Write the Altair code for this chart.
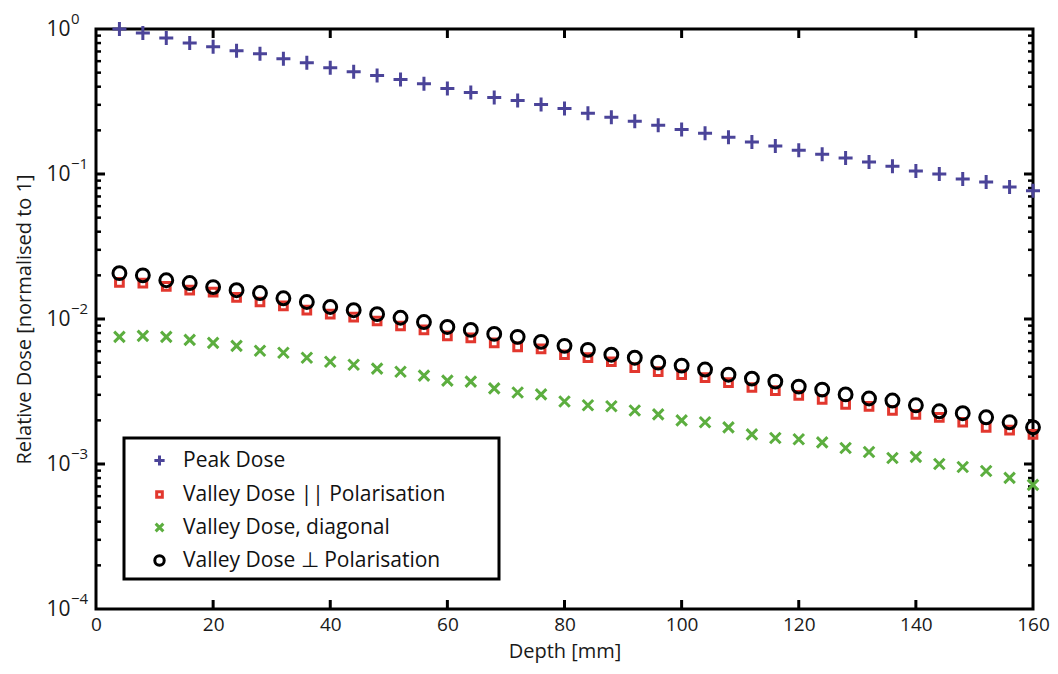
import altair as alt
import pandas as pd

depth = [4, 8, 12, 16, 20, 24, 28, 32, 36, 40, 44, 48, 52, 56, 60, 64, 68, 72, 76, 80,
         84, 88, 92, 96, 100, 104, 108, 112, 116, 120, 124, 128, 132, 136, 140, 144, 148, 152, 156, 160]

peak = [1.0, 0.939, 0.868, 0.802, 0.753, 0.707, 0.674, 0.623, 0.585, 0.541,
        0.508, 0.477, 0.448, 0.420, 0.388, 0.365, 0.337, 0.321, 0.302, 0.283,
        0.262, 0.246, 0.231, 0.217, 0.203, 0.191, 0.179, 0.166, 0.156, 0.146,
        0.137, 0.129, 0.121, 0.113, 0.105, 0.100, 0.0925, 0.0881, 0.0815, 0.0765]

valley_par = [0.0179, 0.0177, 0.0168, 0.0158, 0.0153, 0.0141, 0.0131, 0.0123, 0.0115, 0.0108,
              0.0103, 0.00969, 0.00895, 0.00841, 0.00765, 0.00741, 0.00685, 0.00643, 0.00623, 0.00567,
              0.00541, 0.00507, 0.00462, 0.00433, 0.00413, 0.00394, 0.00364, 0.00337, 0.00321, 0.00297,
              0.00279, 0.00258, 0.00250, 0.00234, 0.00220, 0.00210, 0.00194, 0.00179, 0.00171, 0.00160]

valley_diag = [0.00753, 0.00765, 0.00753, 0.00718, 0.00685, 0.00653, 0.00604, 0.00585, 0.00541, 0.00507,
               0.00484, 0.00455, 0.00433, 0.00407, 0.00376, 0.00370, 0.00332, 0.00311, 0.00302, 0.00270,
               0.00254, 0.00250, 0.00234, 0.00220, 0.00200, 0.00194, 0.00179, 0.00160, 0.00151, 0.00148,
               0.00141, 0.00129, 0.00121, 0.00110, 0.00112, 0.00100, 0.000953, 0.000895, 0.000802, 0.000718]

valley_perp = [0.0207, 0.0200, 0.0185, 0.0177, 0.0166, 0.0158, 0.0151, 0.0139, 0.0131, 0.0121,
               0.0115, 0.0108, 0.0102, 0.00953, 0.00881, 0.00841, 0.00789, 0.00753, 0.00696, 0.00653,
               0.00613, 0.00567, 0.00541, 0.00500, 0.00477, 0.00448, 0.00413, 0.00388, 0.00370, 0.00342,
               0.00326, 0.00302, 0.00283, 0.00274, 0.00254, 0.00231, 0.00224, 0.00210, 0.00194, 0.00179]

series_names = ["Peak Dose", "Valley Dose || Polarisation", "Valley Dose, diagonal",
                "Valley Dose \u22a5 Polarisation"]
series_values = [peak, valley_par, valley_diag, valley_perp]
series_colors = ["#4b4499", "#e2372e", "#5cae3f", "#000000"]
series_shapes = [
    "M-1,0H1M0,-1V1",
    "M-0.55,-0.55H0.55V0.55H-0.55Z",
    "M-0.75,-0.75L0.75,0.75M-0.75,0.75L0.75,-0.75",
    "M0.92,0A0.92,0.92 0 1,1 -0.92,0A0.92,0.92 0 1,1 0.92,0Z",
]

x_ticks = [0, 20, 40, 60, 80, 100, 120, 140, 160]
x_inner_ticks = [20, 40, 60, 80, 100, 120, 140]
y_decades = [1e-4, 1e-3, 1e-2, 1e-1, 1e0]
y_exponents = ["\u22124", "\u22123", "\u22122", "\u22121", "0"]
minor_mult = [2, 3, 4, 5, 6, 7, 8, 9]
y_minor = [m * d for d in y_decades[:-1] for m in minor_mult]

FONT = "Open Sans"
TXT = "#1a1a1a"

rows = []
for name, vals in zip(series_names, series_values):
    for d, v in zip(depth, vals):
        rows.append({"depth": d, "dose": v, "series": name})
df = pd.DataFrame(rows)

xscale = alt.Scale(domain=[0, 160], nice=False, zero=False)
yscale = alt.Scale(type="log", domain=[1e-4, 1], nice=False)

xenc = alt.X("depth:Q", scale=xscale,
             axis=alt.Axis(values=x_ticks, title="Depth [mm]", grid=False, domain=False, ticks=False,
                           labelFontSize=19, labelFont=FONT, labelPadding=6, labelColor=TXT,
                           titleFontSize=20, titleFont=FONT, titleFontWeight="normal",
                           titlePadding=7, titleColor=TXT, labelFlush=False))
yenc = alt.Y("dose:Q", scale=yscale,
             axis=alt.Axis(values=y_decades, labelExpr="'10'", title="Relative Dose [normalised to 1]",
                           grid=False, domain=False, ticks=False, labelFontSize=21, labelFont=FONT,
                           labelPadding=26, labelColor=TXT, titleFontSize=20, titleFont=FONT,
                           titleFontWeight="normal", titlePadding=11, titleColor=TXT,
                           labelFlush=False))

points = alt.Chart(df).mark_point(filled=False, strokeWidth=3, opacity=1, size=196).encode(
    x=xenc,
    y=yenc,
    color=alt.Color("series:N", title=None,
                    scale=alt.Scale(domain=series_names, range=series_colors),
                    legend=alt.Legend(orient="none", legendX=53, legendY=421, padding=0,
                                      labelFontSize=21, labelFont=FONT, labelColor="#111",
                                      symbolSize=105, symbolStrokeWidth=3, rowPadding=11,
                                      labelOffset=13, labelLimit=400)),
    shape=alt.Shape("series:N", title=None,
                    scale=alt.Scale(domain=series_names, range=series_shapes)),
)

box = alt.Chart(pd.DataFrame({"a": [0]})).mark_rect(fill="white", stroke="black", strokeWidth=3).encode(
    x=alt.value(28), x2=alt.value(403), y=alt.value(409), y2=alt.value(550))

xt = pd.DataFrame({"depth": x_inner_ticks})
x_bot = alt.Chart(xt).mark_rule(color="black", strokeWidth=3, y2Offset=-9).encode(
    x=alt.X("depth:Q", scale=xscale), y=alt.value("height"), y2=alt.value("height"))
x_top = alt.Chart(xt).mark_rule(color="black", strokeWidth=3).encode(
    x=alt.X("depth:Q", scale=xscale), y=alt.value(0), y2=alt.value(9))

ymaj = pd.DataFrame({"dose": y_decades[1:-1]})
ymin = pd.DataFrame({"dose": y_minor})
y_maj_l = alt.Chart(ymaj).mark_rule(color="black", strokeWidth=3).encode(
    y=alt.Y("dose:Q", scale=yscale), x=alt.value(0), x2=alt.value(9))
y_maj_r = alt.Chart(ymaj).mark_rule(color="black", strokeWidth=3, x2Offset=-9).encode(
    y=alt.Y("dose:Q", scale=yscale), x=alt.value("width"), x2=alt.value("width"))
y_min_l = alt.Chart(ymin).mark_rule(color="black", strokeWidth=2.5).encode(
    y=alt.Y("dose:Q", scale=yscale), x=alt.value(0), x2=alt.value(5))
y_min_r = alt.Chart(ymin).mark_rule(color="black", strokeWidth=2.5, x2Offset=-5).encode(
    y=alt.Y("dose:Q", scale=yscale), x=alt.value("width"), x2=alt.value("width"))

exp_df = pd.DataFrame({"dose": y_decades, "exp": y_exponents})
exps = alt.Chart(exp_df).mark_text(align="left", baseline="middle", fontSize=15, font=FONT,
                                   color=TXT, dy=-10).encode(
    y=alt.Y("dose:Q", scale=yscale), x=alt.value(-25), text="exp:N")

chart = alt.layer(x_bot, x_top, y_min_l, y_min_r, y_maj_l, y_maj_r, exps, points, box).properties(
    width=1042, height=657, padding={"left": 6, "top": 4, "right": 0, "bottom": 4},
    autosize=alt.AutoSizeParams(type="fit", contains="padding"),
    background="white",
).configure_view(stroke="black", strokeWidth=3).resolve_scale(
    color="shared", shape="shared")

chart.save("out.html", embed_options={"renderer": "svg", "actions": False})
